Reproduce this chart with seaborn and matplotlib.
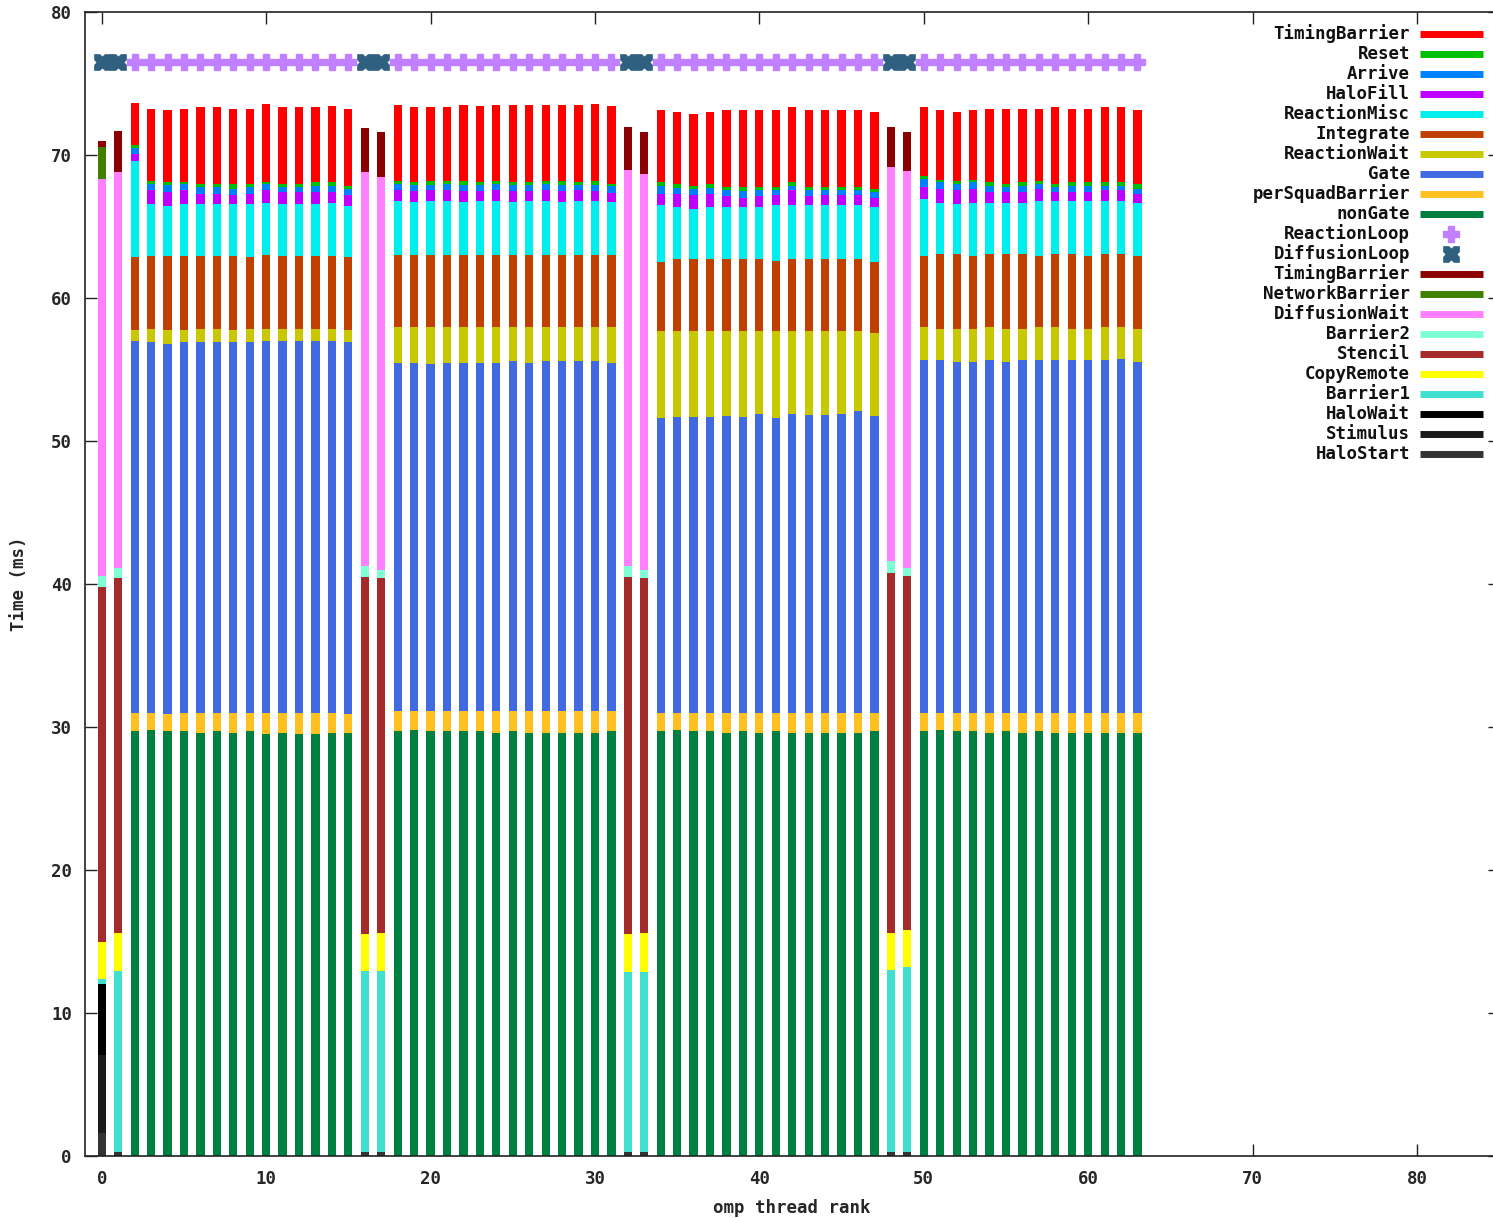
import numpy as np
import matplotlib
matplotlib.use("Agg")
import matplotlib.pyplot as plt
from matplotlib.lines import Line2D
from matplotlib.path import Path
import seaborn as sns

# ---------------------------------------------------------------- data
threads = np.arange(64)
diffusion_threads = [0, 1, 16, 17, 32, 33, 48, 49]
reaction_threads = [t for t in threads if t not in diffusion_threads]

# Reaction-thread timings (ms), one value per reaction thread (2-15, 18-31, 34-47, 50-63)
nonGate = [29.7, 29.8, 29.7, 29.7, 29.6, 29.7, 29.6, 29.7, 29.5, 29.6, 29.5, 29.5, 29.6, 29.6,
           29.7, 29.8, 29.7, 29.7, 29.7, 29.7, 29.6, 29.7, 29.6, 29.6, 29.6, 29.6, 29.6, 29.7,
           29.7, 29.8, 29.7, 29.7, 29.6, 29.7, 29.6, 29.7, 29.6, 29.6, 29.6, 29.6, 29.6, 29.7,
           29.7, 29.8, 29.7, 29.7, 29.6, 29.7, 29.6, 29.7, 29.6, 29.6, 29.6, 29.6, 29.6, 29.6]
perSquadBarrier = [1.3, 1.2, 1.2, 1.3, 1.4, 1.3, 1.4, 1.3, 1.5, 1.4, 1.5, 1.5, 1.4, 1.3,
                   1.4, 1.3, 1.4, 1.4, 1.4, 1.4, 1.5, 1.4, 1.5, 1.5, 1.5, 1.5, 1.5, 1.4,
                   1.3, 1.2, 1.3, 1.3, 1.4, 1.3, 1.4, 1.3, 1.4, 1.4, 1.4, 1.4, 1.4, 1.3,
                   1.3, 1.2, 1.3, 1.3, 1.4, 1.3, 1.4, 1.3, 1.4, 1.4, 1.4, 1.4, 1.4, 1.4]
Gate = [26.02, 25.92, 25.90, 25.92, 25.92, 25.92, 25.92, 25.92, 26.02, 26.02, 26.02, 26.02, 26.02, 26.02,
        24.40, 24.40, 24.30, 24.40, 24.40, 24.40, 24.40, 24.50, 24.40, 24.50, 24.50, 24.50, 24.50, 24.40,
        20.60, 20.70, 20.70, 20.70, 20.75, 20.70, 20.90, 20.60, 20.90, 20.80, 20.80, 20.90, 21.09, 20.73,
        24.66, 24.66, 24.55, 24.55, 24.66, 24.55, 24.66, 24.66, 24.66, 24.66, 24.66, 24.66, 24.78, 24.55]
ReactionWait = [0.74, 0.96, 0.96, 0.84, 0.96, 0.96, 0.84, 0.96, 0.86, 0.86, 0.86, 0.86, 0.86, 0.84,
                2.50, 2.50, 2.60, 2.50, 2.50, 2.50, 2.50, 2.40, 2.50, 2.40, 2.40, 2.40, 2.40, 2.50,
                6.10, 6.00, 6.00, 6.00, 5.95, 6.00, 5.80, 6.10, 5.80, 5.90, 5.90, 5.80, 5.60, 5.85,
                2.33, 2.22, 2.33, 2.33, 2.33, 2.33, 2.22, 2.33, 2.33, 2.22, 2.22, 2.33, 2.21, 2.33]
Integrate = [5.09, 5.06, 5.18, 5.18, 5.06, 5.06, 5.18, 4.97, 5.17, 5.06, 5.06, 5.06, 5.06, 5.09,
             5.00, 5.00, 5.00, 5.00, 5.00, 5.00, 5.00, 5.00, 5.00, 5.00, 5.00, 5.00, 5.00, 5.00,
             4.82, 5.02, 5.02, 5.02, 5.02, 5.02, 5.02, 4.91, 5.02, 5.02, 5.02, 5.02, 5.03, 4.94,
             4.97, 5.19, 5.19, 5.08, 5.08, 5.19, 5.19, 4.97, 5.08, 5.19, 5.08, 5.08, 5.08, 5.08]
ReactionMisc = [6.76, 3.63, 3.52, 3.63, 3.63, 3.63, 3.63, 3.72, 3.64, 3.63, 3.63, 3.63, 3.75, 3.61,
                3.80, 3.70, 3.80, 3.80, 3.70, 3.80, 3.80, 3.70, 3.80, 3.80, 3.70, 3.80, 3.80, 3.73,
                3.99, 3.67, 3.55, 3.67, 3.67, 3.67, 3.67, 3.90, 3.79, 3.79, 3.79, 3.79, 3.79, 3.87,
                3.96, 3.62, 3.53, 3.73, 3.62, 3.62, 3.62, 3.85, 3.74, 3.74, 3.85, 3.74, 3.74, 3.73]
HaloFill = [0.51, 0.98, 0.98, 0.98, 0.75, 0.75, 0.63, 0.75, 0.86, 0.87, 0.87, 0.87, 0.75, 0.74,
            0.75, 0.80, 0.75, 0.75, 0.80, 0.70, 0.75, 0.80, 0.70, 0.75, 0.80, 0.75, 0.70, 0.63,
            0.81, 0.93, 0.93, 0.93, 0.74, 0.65, 0.74, 0.69, 1.04, 0.62, 0.69, 0.69, 0.74, 0.65,
            0.87, 0.98, 0.95, 0.98, 0.77, 0.77, 0.77, 0.86, 0.65, 0.65, 0.65, 0.74, 0.74, 0.63]
Arrive = [0.42, 0.47, 0.46, 0.42, 0.47, 0.47, 0.47, 0.44, 0.44, 0.32, 0.32, 0.44, 0.44, 0.45,
          0.45, 0.45, 0.40, 0.45, 0.45, 0.40, 0.45, 0.45, 0.40, 0.45, 0.45, 0.40, 0.45, 0.46,
          0.56, 0.42, 0.47, 0.42, 0.42, 0.44, 0.42, 0.35, 0.33, 0.42, 0.35, 0.35, 0.35, 0.40,
          0.53, 0.44, 0.47, 0.44, 0.42, 0.33, 0.42, 0.32, 0.33, 0.42, 0.42, 0.33, 0.33, 0.35]
Reset = [0.16, 0.16, 0.21, 0.19, 0.20, 0.20, 0.32, 0.23, 0.12, 0.23, 0.23, 0.23, 0.23, 0.23,
         0.22, 0.20, 0.22, 0.20, 0.22, 0.20, 0.22, 0.20, 0.22, 0.20, 0.22, 0.20, 0.22, 0.19,
         0.23, 0.25, 0.21, 0.25, 0.24, 0.31, 0.24, 0.24, 0.23, 0.24, 0.24, 0.24, 0.19, 0.23,
         0.22, 0.18, 0.18, 0.18, 0.23, 0.20, 0.23, 0.21, 0.20, 0.23, 0.23, 0.23, 0.23, 0.32]
TimingBarrier = [2.98, 5.08, 5.04, 5.10, 5.39, 5.39, 5.27, 5.27, 5.45, 5.39, 5.39, 5.27, 5.36, 5.38,
                 5.28, 5.25, 5.23, 5.20, 5.33, 5.35, 5.28, 5.35, 5.38, 5.30, 5.33, 5.35, 5.43, 5.41,
                 5.04, 5.04, 5.03, 5.04, 5.36, 5.36, 5.36, 5.36, 5.27, 5.36, 5.36, 5.36, 5.36, 5.36,
                 4.84, 4.86, 4.83, 4.86, 5.15, 5.27, 5.15, 5.06, 5.39, 5.15, 5.15, 5.27, 5.27, 5.16]

# Diffusion-thread timings (ms), one value per diffusion thread (0, 1, 16, 17, 32, 33, 48, 49)
HaloStart = [1.60, 0.30, 0.30, 0.30, 0.30, 0.30, 0.30, 0.30]
Stimulus = [5.46, 0.0, 0.0, 0.0, 0.0, 0.0, 0.0, 0.0]
HaloWait = [4.94, 0.0, 0.0, 0.0, 0.0, 0.0, 0.0, 0.0]
Barrier1 = [0.40, 12.65, 12.65, 12.65, 12.60, 12.60, 12.70, 12.90]
CopyRemote = [2.60, 2.65, 2.55, 2.65, 2.60, 2.70, 2.60, 2.60]
Stencil = [24.80, 24.85, 25.00, 24.80, 25.00, 24.80, 25.20, 24.80]
Barrier2 = [0.80, 0.65, 0.80, 0.60, 0.80, 0.60, 0.80, 0.50]
DiffusionWait = [27.75, 27.70, 27.50, 27.50, 27.65, 27.72, 27.58, 27.80]
NetworkBarrier = [2.25, 0.0, 0.0, 0.0, 0.0, 0.0, 0.0, 0.0]
TimingBarrierDiff = [0.40, 2.90, 3.10, 3.10, 3.03, 2.91, 2.80, 2.73]

# Per-iteration loop markers (ms)
ReactionLoop = 76.5
DiffusionLoop = 76.5

# ---------------------------------------------------------------- style
sns.set_theme(style="ticks")
mono = "DejaVu Sans Mono"
plt.rcParams["font.family"] = [mono, "DejaVu Sans"]
plt.rcParams["font.weight"] = "bold"
FS = 12.5

reaction_stack = [
    ("nonGate", nonGate, "#008040"),
    ("perSquadBarrier", perSquadBarrier, "#ffc020"),
    ("Gate", Gate, "#4169e1"),
    ("ReactionWait", ReactionWait, "#c8c800"),
    ("Integrate", Integrate, "#c04000"),
    ("ReactionMisc", ReactionMisc, "#00eeee"),
    ("HaloFill", HaloFill, "#c000ff"),
    ("Arrive", Arrive, "#0080ff"),
    ("Reset", Reset, "#00c000"),
    ("TimingBarrier", TimingBarrier, "#ff0000"),
]
diffusion_stack = [
    ("HaloStart", HaloStart, "#333333"),
    ("Stimulus", Stimulus, "#1a1a1a"),
    ("HaloWait", HaloWait, "#000000"),
    ("Barrier1", Barrier1, "#40e0d0"),
    ("CopyRemote", CopyRemote, "#ffff00"),
    ("Stencil", Stencil, "#a52a2a"),
    ("Barrier2", Barrier2, "#7fffd4"),
    ("DiffusionWait", DiffusionWait, "#ff80ff"),
    ("NetworkBarrier", NetworkBarrier, "#408000"),
    ("TimingBarrier", TimingBarrierDiff, "#8b0000"),
]
reaction_loop_color = "#c080ff"
diffusion_loop_color = "#306080"

# notched box used for the diffusion-loop points
notched_box = Path([(-1, -1), (-0.3, -1), (0, -0.72), (0.3, -1), (1, -1),
                    (1, -0.3), (0.72, 0), (1, 0.3), (1, 1),
                    (0.3, 1), (0, 0.72), (-0.3, 1), (-1, 1),
                    (-1, 0.3), (-0.72, 0), (-1, -0.3), (-1, -1)], closed=True)

W, H = 1493, 1218
fig = plt.figure(figsize=(W / 100, H / 100), dpi=100)
x0_px, x1_px, y0_px, y1_px = 84.5, 1500.0, 1156.0, 12.3
ax = fig.add_axes([x0_px / W, 1 - y0_px / H, (x1_px - x0_px) / W, (y0_px - y1_px) / H])

bar_w = 0.5
bottom = np.zeros(len(reaction_threads))
for name, vals, col in reaction_stack:
    vals = np.asarray(vals, float)
    ax.bar(reaction_threads, vals, bottom=bottom, width=bar_w, color=col,
           linewidth=0, zorder=2)
    bottom += vals

bottom = np.zeros(len(diffusion_threads))
for name, vals, col in diffusion_stack:
    vals = np.asarray(vals, float)
    ax.bar(diffusion_threads, vals, bottom=bottom, width=bar_w, color=col,
           linewidth=0, zorder=2)
    bottom += vals

# loop markers: one line per thread kind, broken where the other kind runs
r_loop = np.full(64, np.nan)
r_loop[reaction_threads] = ReactionLoop
d_loop = np.full(64, np.nan)
d_loop[diffusion_threads] = DiffusionLoop
ax.plot(threads, r_loop, color=reaction_loop_color, lw=5, marker="P", ms=12,
        mec=reaction_loop_color, zorder=3, solid_capstyle="butt")
ax.plot(threads, d_loop, color=diffusion_loop_color, lw=5, marker=notched_box, ms=12,
        mew=0, zorder=4, solid_capstyle="butt")

ax.set_xlim(-1.05, 85.05)
ax.set_ylim(0, 80)
ax.set_xticks(np.arange(0, 81, 10))
ax.set_yticks(np.arange(0, 81, 10))
ax.tick_params(axis="both", which="both", direction="in", length=8.6, width=1.0,
               top=True, right=True, labelsize=FS, color="#222222")
ax.tick_params(axis="y", pad=9)
ax.tick_params(axis="x", pad=10)
for lab in ax.get_xticklabels() + ax.get_yticklabels():
    lab.set_fontweight("bold")
    lab.set_family([mono, "DejaVu Sans"])
for sp in ax.spines.values():
    sp.set_visible(True)
    sp.set_linewidth(1.2)
    sp.set_color("#222222")
ax.grid(False)

ax.set_xlabel("omp thread rank", fontsize=FS, fontweight="bold", family=[mono, "DejaVu Sans"])
ax.set_ylabel("Time (ms)", fontsize=FS, fontweight="bold", family=[mono, "DejaVu Sans"])
ax.xaxis.set_label_coords((792 - x0_px) / (x1_px - x0_px), -(1199 - y0_px) / (y0_px - y1_px))
ax.yaxis.set_label_coords(-(x0_px - 28) / (x1_px - x0_px), 0.5)

# legend column: label right-aligned, sample to its right
legend_rows = [
    ("TimingBarrier", "#ff0000", None),
    ("Reset", "#00c000", None),
    ("Arrive", "#0080ff", None),
    ("HaloFill", "#c000ff", None),
    ("ReactionMisc", "#00eeee", None),
    ("Integrate", "#c04000", None),
    ("ReactionWait", "#c8c800", None),
    ("Gate", "#4169e1", None),
    ("perSquadBarrier", "#ffc020", None),
    ("nonGate", "#008040", None),
    ("ReactionLoop", reaction_loop_color, "P"),
    ("DiffusionLoop", diffusion_loop_color, notched_box),
    ("TimingBarrier", "#8b0000", None),
    ("NetworkBarrier", "#408000", None),
    ("DiffusionWait", "#ff80ff", None),
    ("Barrier2", "#7fffd4", None),
    ("Stencil", "#a52a2a", None),
    ("CopyRemote", "#ffff00", None),
    ("Barrier1", "#40e0d0", None),
    ("HaloWait", "#000000", None),
    ("Stimulus", "#1a1a1a", None),
    ("HaloStart", "#333333", None),
]
for i, (label, col, mk) in enumerate(legend_rows):
    yp = 34 + 20 * i
    yf = 1 - yp / H
    fig.text(1410 / W, yf, label, ha="right", va="center", fontsize=FS,
             fontweight="bold", family=[mono, "DejaVu Sans"], color="#111111")
    if mk is None:
        fig.add_artist(Line2D([1420 / W, 1483 / W], [yf, yf], color=col, lw=5,
                              solid_capstyle="butt", transform=fig.transFigure))
    else:
        fig.add_artist(Line2D([1451 / W], [yf], color=col, marker=mk, ms=12,
                              mew=0 if mk is notched_box else 1, mec=col, lw=0,
                              transform=fig.transFigure))

fig.savefig("out.png", dpi=100, facecolor="white")
